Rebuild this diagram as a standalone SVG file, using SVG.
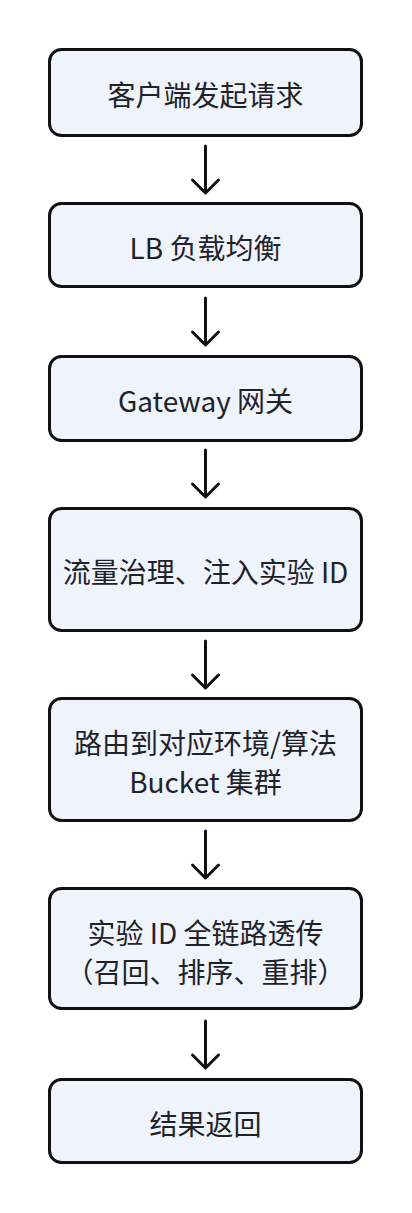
<svg xmlns="http://www.w3.org/2000/svg" width="412" height="1213" viewBox="0 0 412 1213">
<style>
.box{fill:#eef3fc;stroke:#111;stroke-width:3}
.t{font-family:"Noto Sans CJK SC","Noto Sans",sans-serif;font-size:28px;fill:#1f2329;text-anchor:middle;dominant-baseline:central}
.c{fill:none;stroke:#111;stroke-width:3;stroke-linecap:round;stroke-linejoin:round}
</style>
<rect width="412" height="1213" fill="#fff"/>
<g id="n1"><rect class="box" x="49.5" y="49.5" width="312" height="86" rx="12"/><text class="t" x="205.5" y="94">客户端发起请求</text></g>
<g id="n2"><rect class="box" x="49.5" y="203.5" width="312" height="83" rx="12"/><text class="t" x="205.5" y="247">LB 负载均衡</text></g>
<g id="n3"><rect class="box" x="49.5" y="356.5" width="312" height="84" rx="12"/><text class="t" x="205.5" y="400">Gateway 网关</text></g>
<g id="n4"><rect class="box" x="49.5" y="508.5" width="312" height="122" rx="12"/><text class="t" x="205.5" y="571">流量治理、注入实验 ID</text></g>
<g id="n5"><rect class="box" x="49.5" y="698.5" width="312" height="122" rx="12"/><text class="t" x="205.5" y="742">路由到对应环境/算法</text><text class="t" x="205.5" y="781">Bucket 集群</text></g>
<g id="n6"><rect class="box" x="49.5" y="888.5" width="312" height="120" rx="12"/><text class="t" x="205.5" y="932">实验 ID 全链路透传</text><text class="t" x="205.5" y="971">（召回、排序、重排）</text></g>
<g id="n7"><rect class="box" x="49.5" y="1079.5" width="312" height="83" rx="12"/><text class="t" x="205.5" y="1123">结果返回</text></g>
<g id="connectors">
<path class="c" d="M205.5 146V193M192.5 180L205.5 193L218.5 180"/>
<path class="c" d="M205.5 298V345M192.5 332L205.5 345L218.5 332"/>
<path class="c" d="M205.5 450V497M192.5 484L205.5 497L218.5 484"/>
<path class="c" d="M205.5 641V688M192.5 675L205.5 688L218.5 675"/>
<path class="c" d="M205.5 831V878M192.5 865L205.5 878L218.5 865"/>
<path class="c" d="M205.5 1021V1068M192.5 1055L205.5 1068L218.5 1055"/>
</g>
</svg>
